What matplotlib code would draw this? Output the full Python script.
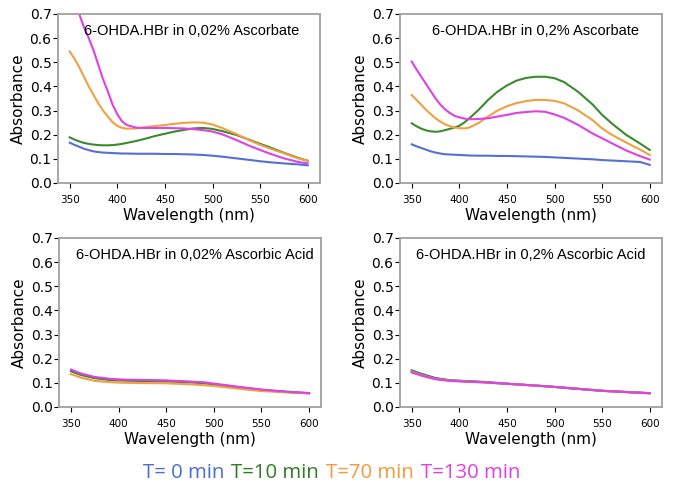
import matplotlib
matplotlib.use("Agg")
import matplotlib.pyplot as plt
from matplotlib.offsetbox import TextArea, HPacker, AnchoredOffsetbox

# wavelengths (nm); finer near the steep part for the top row
wl_top = [350, 355, 360, 365, 370, 375, 380, 385, 390, 395, 400, 405, 410, 420, 430,
          440, 450, 460, 470, 480, 490, 500, 510, 525, 540, 550, 560, 575, 590, 600]
wl_bot = [350, 360, 375, 390, 400, 410, 425, 450, 475, 490, 500, 525, 550, 575, 590, 600]

# 6-OHDA.HBr in 0,02% Ascorbate
a1_t0 = [.167, .158, .150, .142, .136, .131, .128, .126, .125, .124, .123, .122, .122, .121, .121,
         .121, .120, .120, .119, .118, .116, .113, .109, .102, .095, .090, .086, .081, .077, .073]
a1_t10 = [.189, .180, .172, .166, .162, .159, .157, .156, .156, .157, .159, .162, .166, .174, .184,
          .195, .204, .213, .220, .226, .228, .224, .215, .199, .177, .162, .148, .125, .104, .092]
a1_t70 = [.545, .515, .480, .440, .400, .365, .330, .300, .275, .252, .237, .228, .225, .226, .231,
          .236, .240, .245, .249, .251, .250, .242, .228, .203, .175, .158, .143, .123, .102, .092]
a1_t130 = [.810, .755, .700, .645, .600, .550, .490, .430, .380, .325, .285, .255, .240, .229, .228,
           .228, .228, .227, .226, .223, .219, .213, .202, .178, .152, .137, .122, .102, .087, .081]

# 6-OHDA.HBr in 0,2% Ascorbate
a2_t0 = [.160, .152, .145, .138, .131, .126, .122, .119, .118, .117, .116, .115, .114, .113, .113,
         .112, .112, .111, .110, .109, .108, .106, .104, .101, .098, .095, .093, .090, .087, .075]
a2_t10 = [.247, .235, .225, .218, .214, .212, .214, .219, .224, .230, .237, .250, .266, .302, .343,
          .378, .404, .424, .435, .440, .440, .434, .418, .377, .325, .282, .247, .200, .163, .137]
a2_t70 = [.364, .344, .324, .303, .285, .268, .254, .243, .235, .230, .227, .226, .229, .248, .275,
          .300, .318, .331, .339, .344, .344, .340, .330, .300, .260, .226, .200, .168, .138, .116]
a2_t130 = [.503, .470, .440, .410, .380, .350, .325, .305, .290, .278, .272, .267, .264, .265, .268,
           .275, .282, .290, .294, .297, .295, .284, .270, .240, .205, .185, .165, .135, .111, .097]

# 6-OHDA.HBr in 0,02% Ascorbic Acid
b1_t0 = [.152, .137, .122, .115, .112, .111, .110, .108, .104, .100, .094, .082, .071, .063, .059, .057]
b1_t10 = [.148, .133, .119, .112, .110, .109, .108, .106, .102, .098, .093, .081, .070, .062, .059, .057]
b1_t70 = [.136, .122, .108, .103, .101, .100, .099, .098, .094, .090, .087, .076, .066, .061, .058, .057]
b1_t130 = [.155, .139, .124, .117, .114, .113, .112, .110, .105, .102, .097, .084, .072, .064, .060, .058]

# 6-OHDA.HBr in 0,2% Ascorbic Acid
b2_t0 = [.152, .138, .120, .111, .109, .107, .104, .097, .090, .086, .083, .075, .067, .062, .059, .057]
b2_t10 = [.149, .135, .118, .110, .108, .106, .103, .096, .090, .086, .083, .075, .067, .062, .059, .057]
b2_t70 = [.146, .132, .116, .109, .107, .105, .102, .096, .090, .086, .083, .075, .067, .062, .059, .057]
b2_t130 = [.143, .130, .115, .108, .106, .104, .102, .096, .090, .086, .083, .075, .067, .062, .059, .057]

titles = ['6-OHDA.HBr in 0,02% Ascorbate', '6-OHDA.HBr in 0,2% Ascorbate',
          '6-OHDA.HBr in 0,02% Ascorbic Acid', '6-OHDA.HBr in 0,2% Ascorbic Acid']
panels = [[a1_t0, a1_t10, a1_t70, a1_t130], [a2_t0, a2_t10, a2_t70, a2_t130],
          [b1_t0, b1_t10, b1_t70, b1_t130], [b2_t0, b2_t10, b2_t70, b2_t130]]
panel_wl = [wl_top, wl_top, wl_bot, wl_bot]
times = ['T= 0 min', 'T=10 min', 'T=70 min', 'T=130 min']
line_colors = ['#5470d4', '#3a8a2e', '#f0a040', '#e040e6']
text_colors = ['#4a6fd0', '#2f7d22', '#f29a3c', '#e040e0']

fig = plt.figure(figsize=(6.8, 4.86), dpi=100)
boxes = [[0.085, 0.6235], [0.588, 0.6235], [0.087, 0.1626], [0.588, 0.1626]]
title_x = [0.51, 0.52, 0.52, 0.50]

for i in range(4):
    ax = fig.add_axes([boxes[i][0], boxes[i][1], 0.385, 0.3477])
    for y, c in zip(panels[i], line_colors):
        ax.plot(panel_wl[i], y, color=c, lw=1.5)
    ax.set_ylim(0, 0.7)
    ax.set_xlim(337.5, 612.5)
    ax.set_xticks([350, 400, 450, 500, 550, 600])
    ax.set_yticks([0, .1, .2, .3, .4, .5, .6, .7])
    ax.set_yticklabels(['%.1f' % v for v in ax.get_yticks()])
    ax.tick_params(axis='y', labelsize=10, length=3.5, pad=1)
    ax.tick_params(axis='x', labelsize=7.5, length=3.5, pad=5)
    for s in ax.spines.values():
        s.set_color('#a0a0a0')
        s.set_linewidth(1.3)
    ax.set_ylabel('Absorbance', fontsize=11, labelpad=3)
    ax.set_xlabel('Wavelength (nm)', fontsize=11, labelpad=2)
    ax.text(title_x[i], 0.90, titles[i], transform=ax.transAxes, ha='center', va='center',
            fontsize=10.5, family='Liberation Sans')

# coloured time legend under the plots
parts = [TextArea(t, textprops=dict(color=c, fontsize=14.7, family='Open Sans'))
         for t, c in zip(times, text_colors)]
row = HPacker(children=parts, pad=0, sep=5)
box = AnchoredOffsetbox(loc='center', child=row, frameon=False,
                        bbox_to_anchor=(0.4875, 0.027), bbox_transform=fig.transFigure, borderpad=0)
fig.add_artist(box)

fig.savefig('out.png', dpi=100)
